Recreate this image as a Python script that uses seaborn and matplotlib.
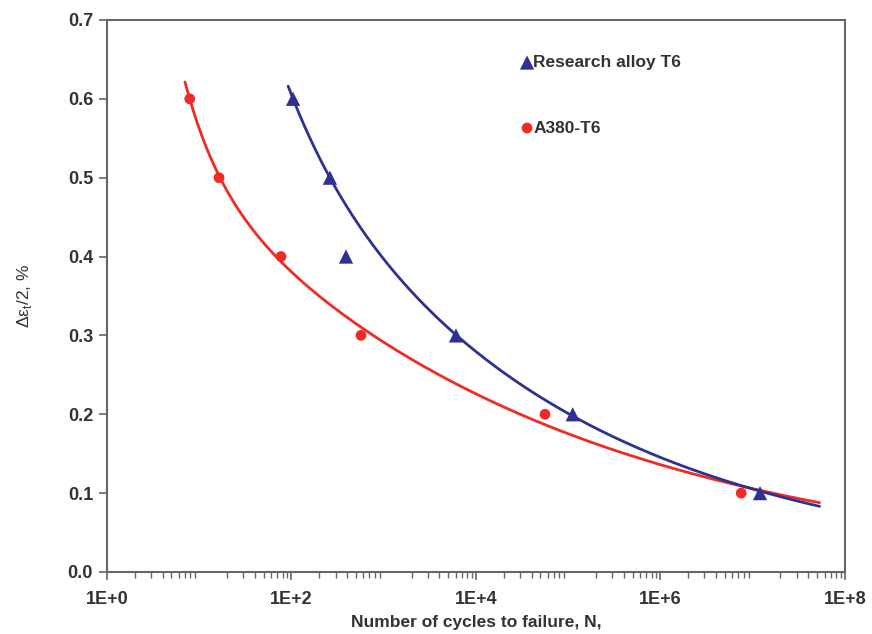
import numpy as np
import pandas as pd
import matplotlib
matplotlib.use("Agg")
import matplotlib.pyplot as plt
from matplotlib.ticker import LogLocator, FixedLocator, FuncFormatter
import seaborn as sns

# Data
a380_cycles = [7.9, 16.4, 77, 567, 56000, 7.5e6]
a380_strain = [0.6, 0.5, 0.4, 0.3, 0.2, 0.1]
research_cycles = [104, 261, 390, 6070, 112000, 1.2e7]
research_strain = [0.6, 0.5, 0.4, 0.3, 0.2, 0.1]
# the 0.4 % point of the research alloy lies off its trend curve
research_in_fit = [True, True, False, True, True, True]
x_ticks = [1, 1e2, 1e4, 1e6, 1e8]
x_tick_labels = ["1E+0", "1E+2", "1E+4", "1E+6", "1E+8"]
y_ticks = [0.0, 0.1, 0.2, 0.3, 0.4, 0.5, 0.6, 0.7]

RED = "#EE2B24"
BLUE = "#2E3192"

sns.set_style("white")
plt.rcParams['font.family'] = ['Liberation Sans', 'DejaVu Sans']
plt.rcParams['mathtext.fontset'] = 'custom'
plt.rcParams['mathtext.rm'] = 'Liberation Sans'

fig = plt.figure(figsize=(8.72, 6.34), dpi=100)
ax = fig.add_axes([0.1227, 0.0978, 0.8463, 0.8707])


def strain_life_fit(cycles, strain, start, end, mask=None):
    """Two-term (Basquin + Coffin-Manson) strain-life fit: A*N^b + B*N^c."""
    N = np.asarray(cycles, float)
    y = np.asarray(strain, float)
    if mask is not None:
        m = np.asarray(mask, bool)
        N, y = N[m], y[m]
    best = None
    for b in np.linspace(-0.4, -0.005, 80):
        for c in np.linspace(-3.0, -0.2, 141):
            M = np.column_stack([N ** b, N ** c])
            coef, *_ = np.linalg.lstsq(M, y, rcond=None)
            if np.any(coef < 0):
                continue
            pred = M @ coef
            err = np.sum((pred - y) ** 2)
            if best is None or err < best[0]:
                best = (err, b, c, coef)
    _, b, c, coef = best
    xs = np.logspace(np.log10(start), np.log10(end), 300)
    return pd.DataFrame({"N": xs, "s": coef[0] * xs ** b + coef[1] * xs ** c})


red_fit = strain_life_fit(a380_cycles, a380_strain, 7.0, 5.3e7)
blue_fit = strain_life_fit(research_cycles, research_strain, 92, 5.3e7, research_in_fit)

sns.lineplot(data=red_fit, x="N", y="s", color=RED, lw=2, ax=ax, sort=False)
sns.lineplot(data=blue_fit, x="N", y="s", color=BLUE, lw=2, ax=ax, sort=False)

sns.scatterplot(x=a380_cycles, y=a380_strain, color=RED, marker="o", s=60,
                edgecolor="none", ax=ax, label="A380-T6", zorder=5)
sns.scatterplot(x=research_cycles, y=research_strain, color=BLUE, marker="^", s=105,
                edgecolor="none", ax=ax, label="Research alloy T6", zorder=5)

ax.set_xscale("log")
ax.set_xlim(1, 1e8)
ax.set_ylim(0, 0.7)
ax.xaxis.set_major_locator(FixedLocator(x_ticks))
ax.xaxis.set_major_formatter(FuncFormatter(lambda v, p: x_tick_labels[x_ticks.index(v)] if v in x_ticks else ""))
ax.xaxis.set_minor_locator(LogLocator(base=10, subs=np.arange(2, 10), numticks=100))
ax.set_yticks(y_ticks)
ax.set_yticklabels([f"{v:.1f}" for v in y_ticks])

for t in ax.get_xticklabels() + ax.get_yticklabels():
    t.set_fontweight("bold")
    t.set_color("#333333")
ax.tick_params(axis="x", which="major", labelsize=13, length=6, width=1.2, color="#666666", direction="out", bottom=True, pad=8)
ax.tick_params(axis="x", which="minor", length=4, width=1, color="#666666", direction="out", bottom=True)
ax.tick_params(axis="y", which="major", labelsize=13, length=6, width=1.2, color="#666666", direction="out", left=True, pad=4)

for sp in ax.spines.values():
    sp.set_color("#666666")
    sp.set_linewidth(1.5)

ax.set_xlabel("Number of cycles to failure, N,", fontsize=12.5, fontweight="bold", color="#333333", labelpad=5)
ax.set_ylabel(r"Δε$_\mathregular{t}$/2, %", fontsize=12.5, color="#333333", labelpad=24)

handles, labels = ax.get_legend_handles_labels()
order = [labels.index("Research alloy T6"), labels.index("A380-T6")]
leg = ax.legend([handles[i] for i in order], [labels[i] for i in order],
                loc="upper left", bbox_to_anchor=(0.541, 0.965), frameon=False,
                handlelength=0.6, handletextpad=0.05, labelspacing=2.9,
                prop={"weight": "bold", "size": 12.5, "family": "Liberation Sans"})
for t in leg.get_texts():
    t.set_color("#333333")

fig.savefig("out.png", dpi=100)
